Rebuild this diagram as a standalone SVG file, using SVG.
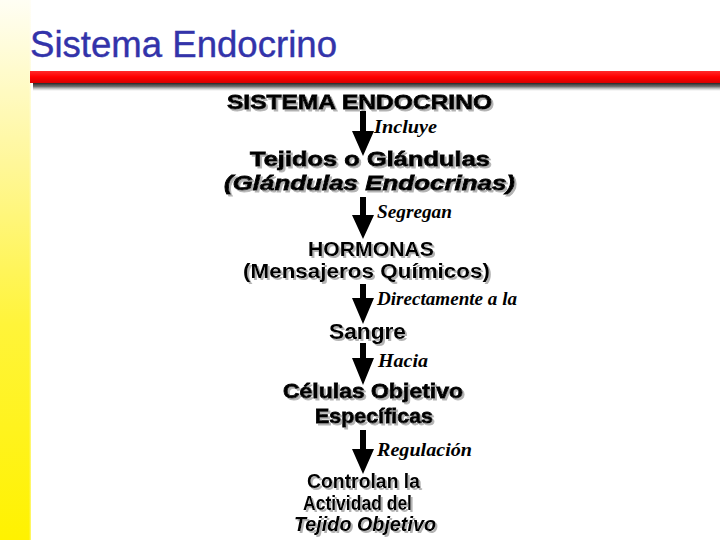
<svg xmlns="http://www.w3.org/2000/svg" width="720" height="540" viewBox="0 0 720 540">
<defs>
<linearGradient id="strip" x1="0" y1="0" x2="0" y2="1">
<stop offset="0" stop-color="#fffef4"/>
<stop offset="0.3" stop-color="#fff79a"/>
<stop offset="0.6" stop-color="#fff43a"/>
<stop offset="1" stop-color="#fff200"/>
</linearGradient>
<linearGradient id="stripEdge" x1="0" y1="0" x2="1" y2="0">
<stop offset="0" stop-color="#ffffff" stop-opacity="0"/>
<stop offset="1" stop-color="#ffffff" stop-opacity="1"/>
</linearGradient>
<linearGradient id="red" x1="0" y1="0" x2="0" y2="1">
<stop offset="0" stop-color="#ff2a2a"/>
<stop offset="0.5" stop-color="#ff0000"/>
<stop offset="1" stop-color="#d80000"/>
</linearGradient>
<linearGradient id="shade" x1="0" y1="0" x2="0" y2="1">
<stop offset="0" stop-color="#000000" stop-opacity="0.95"/>
<stop offset="0.5" stop-color="#333333" stop-opacity="0.7"/>
<stop offset="1" stop-color="#888888" stop-opacity="0"/>
</linearGradient>
<filter id="sh" x="-5%" y="-20%" width="110%" height="150%">
<feDropShadow dx="2" dy="2" stdDeviation="0.6" flood-color="#9a9a9a" flood-opacity="0.75"/>
</filter>
</defs>
<style>
.title{font-family:"Liberation Sans",Arial,sans-serif;font-size:36px;fill:#3333aa;stroke:#3333aa;stroke-width:0.4px}
.heavy{font-family:"Liberation Sans",Arial,sans-serif;font-size:21px;font-weight:bold;fill:#000;stroke:#000;stroke-width:0.8px;filter:url(#sh)}
.main{font-family:"Liberation Sans",Arial,sans-serif;font-size:20px;font-weight:bold;fill:#000;filter:url(#sh)}
.it{font-style:italic}
.lbl{font-family:"Liberation Serif","Times New Roman",serif;font-size:18px;font-weight:bold;font-style:italic;fill:#000}
.arrow{fill:#000}
</style>
<rect x="0" y="0" width="720" height="540" fill="#ffffff"/>
<rect x="0" y="0" width="31" height="540" fill="url(#strip)"/>
<rect x="29" y="0" width="4" height="540" fill="url(#stripEdge)"/>
<text class="title" x="30" y="57" textLength="307" lengthAdjust="spacingAndGlyphs">Sistema Endocrino</text>
<rect x="33" y="82" width="687" height="9" fill="url(#shade)"/>
<rect x="30" y="71" width="690" height="12" fill="url(#red)"/>

<g id="n1"><text class="heavy" x="227" y="109" textLength="265" lengthAdjust="spacingAndGlyphs">SISTEMA ENDOCRINO</text></g>
<g id="n2">
<text class="heavy" x="250" y="166" textLength="240" lengthAdjust="spacingAndGlyphs">Tejidos o Glándulas</text>
<text class="heavy it" x="224" y="190" textLength="291" lengthAdjust="spacingAndGlyphs">(Glándulas Endocrinas)</text>
</g>
<g id="n3">
<text class="main" x="308" y="256" textLength="126" lengthAdjust="spacingAndGlyphs">HORMONAS</text>
<text class="main" x="243" y="278" textLength="247" lengthAdjust="spacingAndGlyphs">(Mensajeros Químicos)</text>
</g>
<g id="n4"><text class="main" x="329" y="339" textLength="77" lengthAdjust="spacingAndGlyphs" style="font-size:22px">Sangre</text></g>
<g id="n5">
<text class="heavy" x="283" y="398" textLength="180" lengthAdjust="spacingAndGlyphs">Células Objetivo</text>
<text class="heavy" x="315" y="423" textLength="118" lengthAdjust="spacingAndGlyphs">Específicas</text>
</g>
<g id="n6">
<text class="main" x="307" y="488" textLength="113" lengthAdjust="spacingAndGlyphs">Controlan la</text>
<text class="main" x="303" y="510" textLength="109" lengthAdjust="spacingAndGlyphs">Actividad del</text>
<text class="main it" x="294" y="531" textLength="142" lengthAdjust="spacingAndGlyphs">Tejido Objetivo</text>
</g>

<g id="connectors">
<polygon class="arrow" points="360,111 366,111 366,131 374,131 363,156 352,131 360,131"/>
<polygon class="arrow" points="360,197 366,197 366,215 374,215 363,239 352,215 360,215"/>
<polygon class="arrow" points="360,284 366,284 366,298 374,298 363,324 352,298 360,298"/>
<polygon class="arrow" points="360,343 366,343 366,358 374,358 363,385 352,358 360,358"/>
<polygon class="arrow" points="360,430 366,430 366,449 374,449 363,474 352,449 360,449"/>
<text class="lbl" x="374" y="133" textLength="63" lengthAdjust="spacingAndGlyphs">Incluye</text>
<text class="lbl" x="377" y="218" textLength="75" lengthAdjust="spacingAndGlyphs">Segregan</text>
<text class="lbl" x="377" y="305" textLength="140" lengthAdjust="spacingAndGlyphs">Directamente a la</text>
<text class="lbl" x="378" y="367" textLength="50" lengthAdjust="spacingAndGlyphs">Hacia</text>
<text class="lbl" x="377" y="456" textLength="95" lengthAdjust="spacingAndGlyphs">Regulación</text>
</g>
</svg>
